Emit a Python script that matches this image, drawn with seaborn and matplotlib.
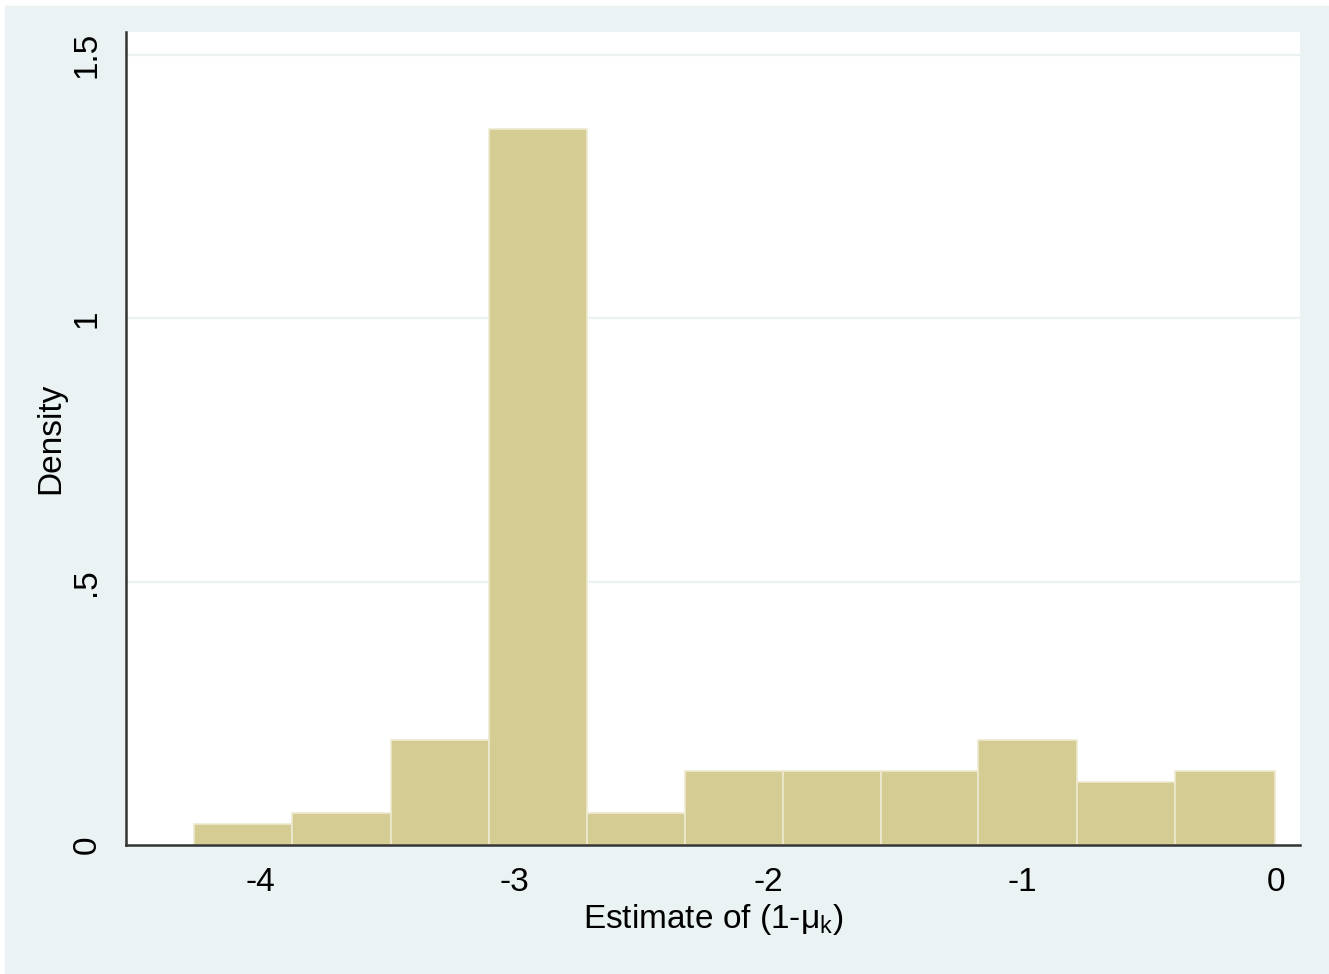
import numpy as np
import pandas as pd
import matplotlib.pyplot as plt
import matplotlib.patches as mpatches
import seaborn as sns

# histogram bins and bar heights (density)
bin_edges = [-4.260, -3.874, -3.484, -3.098, -2.713, -2.327, -1.941,
             -1.555, -1.173, -0.783, -0.398, -0.004]
densities = [0.04, 0.06, 0.20, 1.36, 0.06, 0.14, 0.14, 0.14, 0.20, 0.12, 0.14]

x_ticks = [-4, -3, -2, -1, 0]
x_ticklabels = ['-4', '-3', '-2', '-1', '0']
y_ticks = [0, 0.5, 1, 1.5]
y_ticklabels = ['0', '.5', '1', '1.5']

sns.set_style('white')
plt.rcParams['font.family'] = ['Liberation Sans', 'DejaVu Sans']
plt.rcParams['mathtext.fontset'] = 'custom'
plt.rcParams['mathtext.rm'] = 'Liberation Sans'
plt.rcParams['mathtext.it'] = 'Liberation Sans'

bg = '#EAF2F3'
fig = plt.figure(figsize=(13.29, 9.74), dpi=100, facecolor='white')
fig.patches.append(mpatches.Rectangle((5 / 1329, 0), 1 - 5 / 1329, 968 / 974,
                                      transform=fig.transFigure, color=bg,
                                      zorder=-10))
ax = fig.add_axes([126 / 1329, 129 / 974, (1300 - 126) / 1329, (845 - 32) / 974])
ax.set_facecolor('white')

edges = np.array(bin_edges)
df = pd.DataFrame({'center': (edges[:-1] + edges[1:]) / 2, 'density': densities})
sns.histplot(data=df, x='center', weights='density', bins=list(bin_edges),
             stat='count', color='#D5CC93', alpha=1, edgecolor='#EEEAD0',
             linewidth=1.2, ax=ax)

for yv in y_ticks[1:]:
    ax.axhline(yv, color=bg, lw=1.6, zorder=0)

ax.set_xlim(-4.528, 0.0945)
ax.set_ylim(0, 1.544)
ax.set_xticks(x_ticks)
ax.set_xticklabels(x_ticklabels)
ax.set_yticks(y_ticks)
ax.set_yticklabels(y_ticklabels, rotation=90, va='center')

for s in ['top', 'right']:
    ax.spines[s].set_visible(False)
for s in ['left', 'bottom']:
    ax.spines[s].set_color('#333333')
    ax.spines[s].set_linewidth(1.8)

ax.tick_params(axis='both', which='major', direction='out', length=11,
               width=1.8, color='#333333', labelsize=24, labelcolor='black')
ax.tick_params(axis='y', pad=6)
ax.tick_params(axis='x', pad=5)

ax.set_xlabel('Estimate of (1-μ$_{\\mathrm{k}}$)', fontsize=24, labelpad=3,
              color='black')
ax.set_ylabel('Density', fontsize=24, labelpad=4, color='black')

plt.savefig('out.png', dpi=100, facecolor=fig.get_facecolor())
